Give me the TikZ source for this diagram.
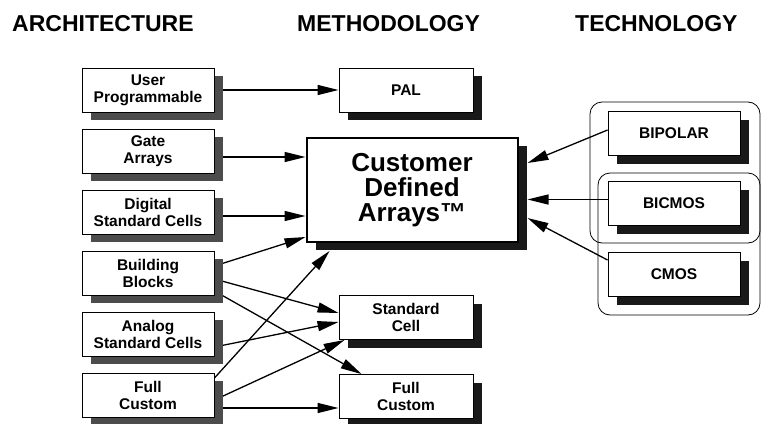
\documentclass[tikz,border=0pt]{standalone}
\usepackage{fontspec}
\setmainfont{Liberation Sans}
\usetikzlibrary{shapes, arrows.meta, shadows, backgrounds}
\tikzstyle{heading} = [font=\fontsize{23}{26}\selectfont\bfseries, anchor=base west, inner sep=0pt]
\tikzstyle{block} = [rectangle, minimum width=132pt, minimum height=44pt, text centered, align=center, draw=black, line width=0.9pt, fill=white, font=\fontsize{15.5}{17}\selectfont\bfseries]
\tikzstyle{greyshadow} = [drop shadow={shadow xshift=9pt, shadow yshift=-8pt, fill=black!70, opacity=1}]
\tikzstyle{blackshadow} = [drop shadow={shadow xshift=9pt, shadow yshift=-8pt, fill=black!90, opacity=1}]
\tikzstyle{group} = [rounded corners=12pt, line width=0.8pt]
\tikzstyle{arrow} = [line width=1.3pt, -{Triangle[length=21pt,width=10pt]}]

\begin{document}
\begin{tikzpicture}[x=1pt, y=-1pt, node distance=61pt]
    \useasboundingbox (0,0) rectangle (762,423);
    % headings
    \node (arch) [heading] at (12,31) {ARCHITECTURE};
    \node (meth) [heading] at (297,31) {METHODOLOGY};
    \node (tech) [heading] at (575,31) {TECHNOLOGY};

    % architecture column
    \node (userprog) [block, greyshadow] at (148,90) {User\\Programmable};
    \node (gatearr) [block, greyshadow, below of=userprog] {Gate\\Arrays};
    \node (digstd) [block, greyshadow, below of=gatearr] {Digital\\Standard Cells};
    \node (buildblk) [block, greyshadow, below of=digstd] {Building\\Blocks};
    \node (analogstd) [block, greyshadow, below of=buildblk] {Analog\\Standard Cells};
    \node (fullcust) [block, greyshadow, below of=analogstd] {Full\\Custom};

    % methodology column
    \node (pal) [block, blackshadow, minimum width=134pt] at (406,90) {PAL};
    \node (cda) [block, blackshadow, minimum width=211pt, minimum height=104pt, line width=2pt, font=\fontsize{26}{25}\selectfont\bfseries] at (412,190) {Customer\\Defined\\Arrays™};
    \node (stdcell) [block, blackshadow, minimum width=134pt] at (406,317.5) {Standard\\Cell};
    \node (fullcustm) [block, blackshadow, minimum width=134pt] at (406,396.5) {Full\\Custom};

    % technology column
    \node (bipolar) [block, blackshadow] at (674,133.5) {BIPOLAR};
    \node (bicmos) [block, blackshadow, below of=bipolar, node distance=70pt] {BICMOS};
    \node (cmos) [block, blackshadow, below of=bicmos, node distance=71pt] {CMOS};

    \begin{scope}[on background layer]
    \draw [group] (590,102) rectangle (760,243);
    \draw [group] (598,173) rectangle (760,315);

    \draw [arrow] (userprog.east) -- (pal.west);
    \draw [arrow] ([yshift=-6pt]gatearr.east) -- ([yshift=-6pt]gatearr.east -| cda.west);
    \draw [arrow] ([yshift=-4pt]digstd.east) -- ([yshift=-4pt]digstd.east -| cda.west);
    \draw [arrow] ([yshift=7pt]buildblk.east) -- ([yshift=6pt]cda.south west);
    \draw [arrow] ([yshift=-6pt]buildblk.east) -- ([yshift=4.5pt]stdcell.west);
    \draw [arrow] ([yshift=-18pt]buildblk.east) -- ([xshift=23pt]fullcustm.north west);
    \draw [arrow] ([yshift=-13pt]analogstd.east) -- ([yshift=-4.5pt]stdcell.west);
    \draw [arrow] ([yshift=17pt]fullcust.east) -- ([xshift=24pt,yshift=-8pt]cda.south west);
    \draw [arrow] ([yshift=-5pt]fullcust.east) -- ([xshift=6pt]stdcell.south west);
    \draw [arrow] ([yshift=-13pt]fullcust.east) -- ([yshift=-13pt]fullcust.east -| fullcustm.west);

    \draw [arrow] ([yshift=3.5pt]bipolar.west) -- ([xshift=9pt,yshift=27pt]cda.east);
    \draw [arrow] ([yshift=4pt]bicmos.west) -- ([yshift=4pt,xshift=9pt]bicmos.west -| cda.east);
    \draw [arrow] ([yshift=14.5pt]cmos.west) -- ([xshift=9pt,yshift=-28pt]cda.east);
    \end{scope}
\end{tikzpicture}
\end{document}
